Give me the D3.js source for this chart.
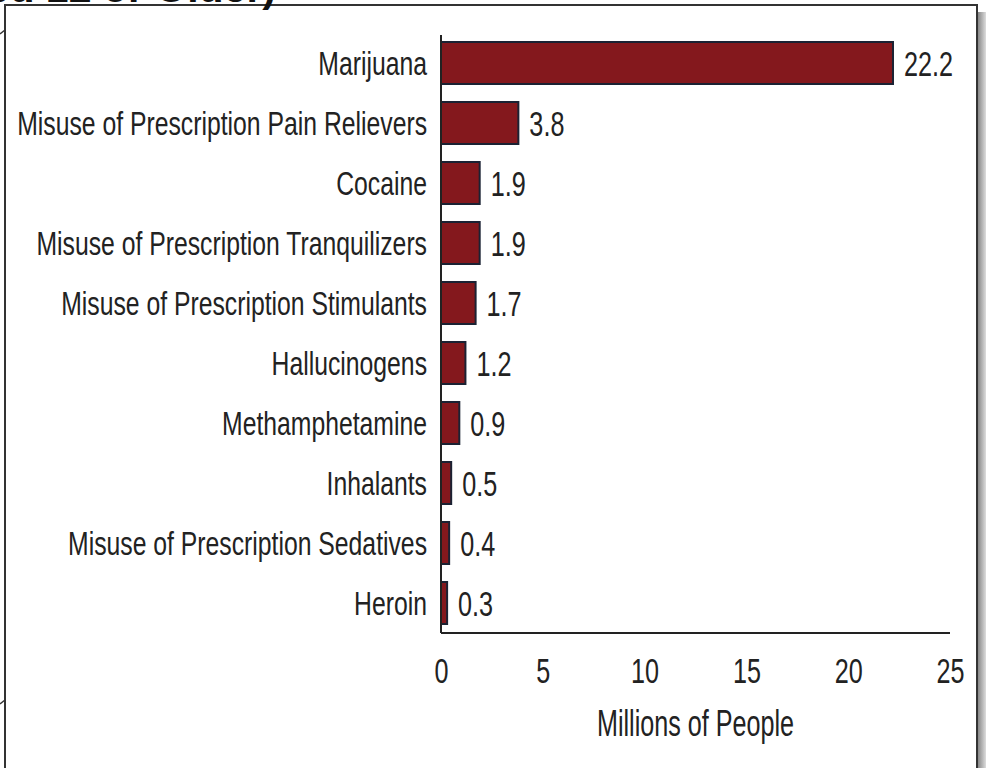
<!DOCTYPE html>
<html>
<head>
<meta charset="utf-8">
<script src="https://cdn.jsdelivr.net/npm/d3@7"></script>
<style>
  body { margin: 0; background: #fff; }
  svg { display: block; }
  .lbl { font-family: "Liberation Sans", Arial, sans-serif; fill: #222; }
</style>
</head>
<body>
<div id="chart"></div>
<script>
// data
const categories = [
    "Marijuana",
    "Misuse of Prescription Pain Relievers",
    "Cocaine",
    "Misuse of Prescription Tranquilizers",
    "Misuse of Prescription Stimulants",
    "Hallucinogens",
    "Methamphetamine",
    "Inhalants",
    "Misuse of Prescription Sedatives",
    "Heroin"
];
const values = [22.2, 3.8, 1.9, 1.9, 1.7, 1.2, 0.9, 0.5, 0.4, 0.3];
const xTicks = [0, 5, 10, 15, 20, 25];
const titleText = "(Aged 12 or Older)";
const axisTitle = "Millions of People";

const W = 986, H = 768;
const margin = { top: 33, left: 441, right: 36, bottom: 135 };
const squeeze = 0.75; // condensed look

const svg = d3.select("#chart")
    .append("svg")
    .attr("width", W)
    .attr("height", H);

// shadow on the right of the frame
const grad = svg.append("defs").append("linearGradient")
    .attr("id", "shade").attr("x1", 0).attr("x2", 1);
grad.append("stop").attr("offset", 0).attr("stop-color", "#888");
grad.append("stop").attr("offset", 1).attr("stop-color", "#ddd");
svg.append("rect")
    .attr("x", 978).attr("y", 12).attr("width", 8).attr("height", H)
    .attr("fill", "url(#shade)");

// frame
svg.append("rect")
    .attr("x", 5).attr("y", 5)
    .attr("width", 972).attr("height", H + 10)
    .attr("fill", "#fff")
    .attr("stroke", "#333")
    .attr("stroke-width", 2);

// cut off title
svg.append("text")
    .attr("x", 276).attr("y", 1.5)
    .attr("text-anchor", "end")
    .attr("font-family", "Liberation Sans, Arial, sans-serif")
    .attr("font-weight", "bold")
    .attr("font-size", 41)
    .attr("fill", "#111")
    .text(titleText);

// little brace marks on the far left
[30, 700].forEach(yy => {
    svg.append("path")
        .attr("d", `M0,${yy + 4} L5,${yy}`)
        .attr("stroke", "#333").attr("stroke-width", 1.5).attr("fill", "none");
});

const x = d3.scaleLinear()
    .domain([0, 25])
    .range([margin.left, W - margin.right]);

const y = d3.scaleBand()
    .domain(categories)
    .range([margin.top, H - margin.bottom])
    .paddingInner(0.3)
    .paddingOuter(0.15);

const g = svg.append("g");

// bars
g.selectAll("rect.bar")
    .data(categories)
    .enter()
    .append("rect")
    .attr("class", "bar")
    .attr("x", x(0))
    .attr("y", d => y(d))
    .attr("width", (d, i) => x(values[i]) - x(0))
    .attr("height", y.bandwidth())
    .attr("fill", "#84181d")
    .attr("stroke", "#1b2233")
    .attr("stroke-width", 2);

// category labels
g.selectAll("text.cat")
    .data(categories)
    .enter()
    .append("text")
    .attr("class", "lbl cat")
    .attr("transform", d => `translate(${x(0) - 14},${y(d) + y.bandwidth() / 2}) scale(${squeeze},1)`)
    .attr("dy", "0.36em")
    .attr("text-anchor", "end")
    .attr("font-size", 33)
    .text(d => d);

// value labels
g.selectAll("text.val")
    .data(categories)
    .enter()
    .append("text")
    .attr("class", "lbl val")
    .attr("transform", (d, i) => `translate(${x(values[i]) + 11},${y(d) + y.bandwidth() / 2}) scale(0.7,1)`)
    .attr("dy", "0.36em")
    .attr("font-size", 36)
    .text((d, i) => values[i].toFixed(1));

// axes
const axisY = H - margin.bottom;
g.append("line")
    .attr("x1", x(0)).attr("x2", x(0))
    .attr("y1", margin.top + 2).attr("y2", axisY)
    .attr("stroke", "#222").attr("stroke-width", 2);

const xAxis = g.append("g")
    .attr("transform", `translate(0,${axisY})`)
    .call(d3.axisBottom(x).tickValues(xTicks).tickSize(0).tickPadding(0).tickFormat(d3.format("d")));
xAxis.select(".domain")
    .attr("d", `M${x(0)},0H${x(25)}`)
    .attr("stroke", "#222").attr("stroke-width", 2);
xAxis.selectAll(".tick text")
    .attr("class", "lbl")
    .attr("font-size", 36)
    .attr("y", 0)
    .attr("dy", 0)
    .attr("transform", "translate(0,50) scale(0.7,1)");

svg.append("text")
    .attr("class", "lbl")
    .attr("transform", `translate(${(x(0) + x(25)) / 2},736) scale(0.68,1)`)
    .attr("text-anchor", "middle")
    .attr("font-size", 37)
    .text(axisTitle);
</script>
</body>
</html>
